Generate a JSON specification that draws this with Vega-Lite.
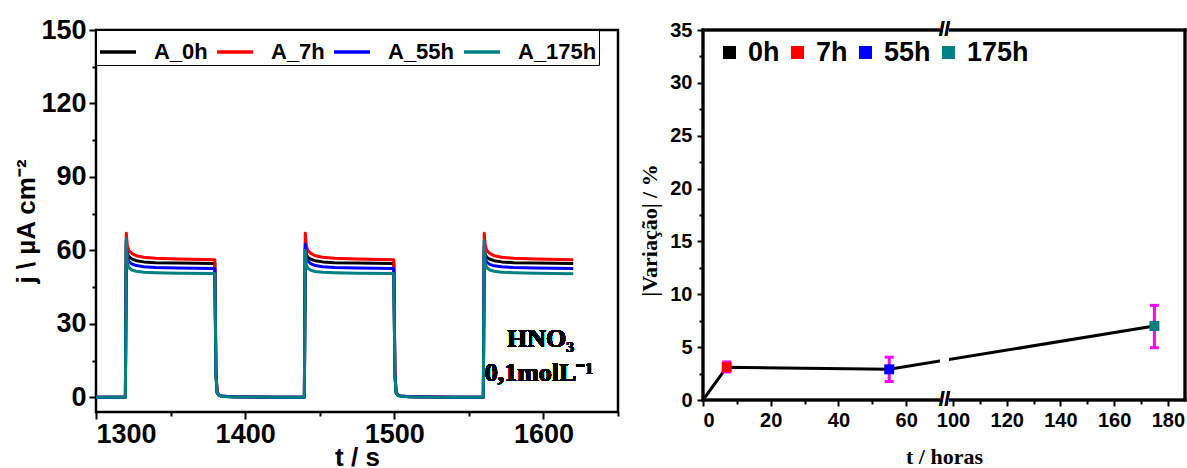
{
  "$schema": "https://vega.github.io/schema/vega-lite/v6.json",
  "background": "white",
  "padding": {"left": 12, "top": 14, "right": 0, "bottom": 0},
  "spacing": 85,
  "bounds": "flush",
  "resolve": {"scale": {"color": "independent"}, "legend": {"color": "independent"}},
  "config": {
    "view": {"stroke": null},
    "font": "Liberation Sans",
    "axis": {
      "domain": false,
      "grid": false,
      "tickColor": "black",
      "tickWidth": 2,
      "labelColor": "black",
      "titleColor": "black",
      "labelFont": "Liberation Sans",
      "labelFontWeight": "bold",
      "titleFont": "Liberation Sans",
      "titleFontWeight": "bold"
    }
  },
  "hconcat": [
    {
      "width": 522,
      "height": 382,
      "view": {"stroke": "black", "strokeWidth": 2.5},
      "data": {
        "values": [
          {"t": 1300, "A_0h": 0, "A_7h": 0, "A_55h": 0, "A_175h": 0},
          {"t": 1319.7, "A_0h": 0, "A_7h": 0, "A_55h": 0, "A_175h": 0},
          {"t": 1320.3, "A_0h": 64, "A_7h": 67, "A_55h": 62, "A_175h": 65},
          {"t": 1321, "A_0h": 59, "A_7h": 62, "A_55h": 57, "A_175h": 55},
          {"t": 1322, "A_0h": 57.5, "A_7h": 60, "A_55h": 55.5, "A_175h": 53},
          {"t": 1324, "A_0h": 56.5, "A_7h": 58.8, "A_55h": 54.5, "A_175h": 52},
          {"t": 1327, "A_0h": 55.8, "A_7h": 57.8, "A_55h": 53.8, "A_175h": 51.5},
          {"t": 1332, "A_0h": 55.3, "A_7h": 57.2, "A_55h": 53.3, "A_175h": 51.1},
          {"t": 1340, "A_0h": 55, "A_7h": 56.8, "A_55h": 53, "A_175h": 50.9},
          {"t": 1355, "A_0h": 54.8, "A_7h": 56.5, "A_55h": 52.8, "A_175h": 50.7},
          {"t": 1379.7, "A_0h": 54.6, "A_7h": 56.2, "A_55h": 52.6, "A_175h": 50.6},
          {"t": 1380.4, "A_0h": 10, "A_7h": 11, "A_55h": 10, "A_175h": 9},
          {"t": 1381.2, "A_0h": 2, "A_7h": 2.2, "A_55h": 2, "A_175h": 1.8},
          {"t": 1382.5, "A_0h": 0.8, "A_7h": 0.9, "A_55h": 0.8, "A_175h": 0.7},
          {"t": 1385, "A_0h": 0.4, "A_7h": 0.4, "A_55h": 0.4, "A_175h": 0.35},
          {"t": 1392, "A_0h": 0.2, "A_7h": 0.2, "A_55h": 0.2, "A_175h": 0.15},
          {"t": 1420, "A_0h": 0.05, "A_7h": 0.05, "A_55h": 0.05, "A_175h": 0.05},
          {"t": 1439.7, "A_0h": 0, "A_7h": 0, "A_55h": 0, "A_175h": 0},
          {"t": 1440.3, "A_0h": 61, "A_7h": 67, "A_55h": 62.5, "A_175h": 60},
          {"t": 1441, "A_0h": 58.5, "A_7h": 62, "A_55h": 57.5, "A_175h": 54},
          {"t": 1442, "A_0h": 57.2, "A_7h": 60, "A_55h": 55.7, "A_175h": 52.7},
          {"t": 1444, "A_0h": 56.4, "A_7h": 58.8, "A_55h": 54.6, "A_175h": 51.9},
          {"t": 1447, "A_0h": 55.8, "A_7h": 57.8, "A_55h": 53.8, "A_175h": 51.4},
          {"t": 1452, "A_0h": 55.3, "A_7h": 57.2, "A_55h": 53.3, "A_175h": 51.1},
          {"t": 1460, "A_0h": 55, "A_7h": 56.8, "A_55h": 53, "A_175h": 50.9},
          {"t": 1475, "A_0h": 54.8, "A_7h": 56.5, "A_55h": 52.8, "A_175h": 50.7},
          {"t": 1499.7, "A_0h": 54.6, "A_7h": 56.2, "A_55h": 52.6, "A_175h": 50.6},
          {"t": 1500.4, "A_0h": 10, "A_7h": 11, "A_55h": 10, "A_175h": 9},
          {"t": 1501.2, "A_0h": 2, "A_7h": 2.2, "A_55h": 2, "A_175h": 1.8},
          {"t": 1502.5, "A_0h": 0.8, "A_7h": 0.9, "A_55h": 0.8, "A_175h": 0.7},
          {"t": 1505, "A_0h": 0.4, "A_7h": 0.4, "A_55h": 0.4, "A_175h": 0.35},
          {"t": 1512, "A_0h": 0.2, "A_7h": 0.2, "A_55h": 0.2, "A_175h": 0.15},
          {"t": 1540, "A_0h": 0.05, "A_7h": 0.05, "A_55h": 0.05, "A_175h": 0.05},
          {"t": 1559.7, "A_0h": 0, "A_7h": 0, "A_55h": 0, "A_175h": 0},
          {"t": 1560.3, "A_0h": 62, "A_7h": 67, "A_55h": 60, "A_175h": 64},
          {"t": 1561, "A_0h": 58.5, "A_7h": 62, "A_55h": 56.5, "A_175h": 54.5},
          {"t": 1562, "A_0h": 57.2, "A_7h": 60, "A_55h": 55.2, "A_175h": 53},
          {"t": 1564, "A_0h": 56.4, "A_7h": 58.8, "A_55h": 54.3, "A_175h": 52},
          {"t": 1567, "A_0h": 55.8, "A_7h": 57.8, "A_55h": 53.7, "A_175h": 51.5},
          {"t": 1572, "A_0h": 55.3, "A_7h": 57.2, "A_55h": 53.3, "A_175h": 51.1},
          {"t": 1580, "A_0h": 55, "A_7h": 56.8, "A_55h": 53, "A_175h": 50.9},
          {"t": 1595, "A_0h": 54.8, "A_7h": 56.5, "A_55h": 52.8, "A_175h": 50.7},
          {"t": 1620, "A_0h": 54.6, "A_7h": 56.2, "A_55h": 52.6, "A_175h": 50.5}
        ]
      },
      "transform": [{"fold": ["A_0h", "A_7h", "A_55h", "A_175h"], "as": ["serie", "j"]}],
      "layer": [
        {
          "mark": {"type": "line", "strokeWidth": 3, "strokeJoin": "round"},
          "encoding": {
            "x": {
              "field": "t", "type": "quantitative",
              "scale": {"domain": [1300, 1650], "nice": false, "zero": false},
              "axis": {"values": [1300, 1400, 1500, 1600], "format": "d", "title": "t / s", "tickSize": 7, "labelFontSize": 27, "titleFontSize": 26, "titlePadding": -3, "labelPadding": 2}
            },
            "y": {
              "field": "j", "type": "quantitative",
              "scale": {"domain": [-6, 150], "nice": false, "zero": false},
              "axis": {"values": [0, 30, 60, 90, 120, 150], "title": "j \\ µA cm⁻²", "tickSize": 7, "labelFontSize": 27, "titleFontSize": 26, "titlePadding": 1, "labelPadding": 3}
            },
            "color": {
              "field": "serie", "type": "nominal",
              "scale": {"domain": ["A_0h", "A_7h", "A_55h", "A_175h"], "range": ["#000000", "#ff0000", "#0000ff", "#008080"]},
              "legend": {
                "orient": "none", "legendX": 0, "legendY": 0, "direction": "horizontal", "title": null,
                "gridAlign": "none",
                "symbolType": "M-1,0H1", "symbolSize": 1296, "symbolStrokeWidth": 3.5,
                "labelFontSize": 22, "labelFontWeight": "bold", "labelColor": "black", "labelFont": "Liberation Sans",
                "strokeColor": "black", "fillColor": "white",
                "padding": 2, "columnPadding": 2, "labelOffset": 16
              }
            }
          }
        },
        {
          "mark": {"type": "point", "opacity": 0},
          "encoding": {
            "x": {"field": "t", "type": "quantitative", "axis": {"orient": "bottom", "values": [1350, 1450, 1550, 1650], "labels": false, "tickSize": 4, "title": null}},
            "y": {"field": "j", "type": "quantitative", "axis": {"orient": "left", "values": [15, 45, 75, 105, 135], "labels": false, "tickSize": 4, "title": null}}
          }
        },
        {
          "mark": {"type": "text", "font": "Liberation Serif", "fontSize": 26, "fontWeight": "bold", "align": "center", "baseline": "middle", "color": "black"},
          "encoding": {
            "x": {"datum": 1598, "type": "quantitative", "axis": null},
            "y": {"datum": 24, "type": "quantitative", "axis": null},
            "text": {"value": "HNO₃"}
          }
        },
        {
          "mark": {"type": "text", "font": "Liberation Serif", "fontSize": 26, "fontWeight": "bold", "align": "center", "baseline": "middle", "color": "black"},
          "encoding": {
            "x": {"datum": 1597, "type": "quantitative", "axis": null},
            "y": {"datum": 10, "type": "quantitative", "axis": null},
            "text": {"value": "0,1molL⁻¹"}
          }
        }
      ],
      "resolve": {"axis": {"x": "independent", "y": "independent"}}
    },
    {
      "width": 482,
      "height": 370,
      "view": {"stroke": null},
      "data": {
        "values": [
          {"h": 0, "v": 0, "lab": "0h"},
          {"h": 7, "v": 3.1, "lab": "7h", "lo": 2.65, "hi": 3.6},
          {"h": 55, "v": 2.9, "lab": "55h", "lo": 1.75, "hi": 4.05},
          {"h": 175, "v": 7.0, "lab": "175h", "lo": 4.95, "hi": 8.95}
        ]
      },
      "layer": [
        {
          "mark": {"type": "line", "color": "black", "strokeWidth": 3},
          "encoding": {
            "x": {
              "field": "h", "type": "quantitative",
              "scale": {"domain": [0, 70, 98.5, 186.4], "range": [0, 237, 246, 482], "nice": false, "zero": false},
              "axis": {"values": [0, 20, 40, 60, 100, 120, 140, 160, 180], "title": "t / horas", "titleFont": "Liberation Serif", "titleFontSize": 22, "titlePadding": 16, "labelFontSize": 20, "tickSize": 6, "labelPadding": 4}
            },
            "y": {
              "field": "v", "type": "quantitative",
              "scale": {"domain": [0, 35], "nice": false, "zero": false},
              "axis": {"values": [0, 5, 10, 15, 20, 25, 30, 35], "title": "|Variação| / %", "titleFont": "Liberation Serif", "titleFontSize": 22, "titlePadding": 8, "titleY": 200, "labelFontSize": 20, "tickSize": 6, "labelPadding": 5}
            }
          }
        },
        {
          "mark": {"type": "point", "opacity": 0},
          "encoding": {
            "x": {"field": "h", "type": "quantitative", "axis": {"orient": "bottom", "values": [10, 30, 50, 110, 130, 150, 170], "labels": false, "tickSize": 4, "title": null}},
            "y": {"field": "v", "type": "quantitative", "axis": {"orient": "left", "values": [2.5, 7.5, 12.5, 17.5, 22.5, 27.5, 32.5], "labels": false, "tickSize": 4, "title": null}}
          }
        },
        {
          "mark": {"type": "rule", "color": "black", "strokeWidth": 2.5, "strokeCap": "square"},
          "encoding": {
            "x": {"datum": 0, "type": "quantitative", "axis": null},
            "x2": {"datum": 186.4},
            "y": {"datum": 35, "type": "quantitative", "axis": null}
          }
        },
        {
          "mark": {"type": "rule", "color": "black", "strokeWidth": 2.5, "strokeCap": "square"},
          "encoding": {
            "x": {"datum": 0, "type": "quantitative", "axis": null},
            "x2": {"datum": 186.4},
            "y": {"datum": 0, "type": "quantitative", "axis": null}
          }
        },
        {
          "mark": {"type": "rule", "color": "black", "strokeWidth": 2.5, "strokeCap": "square"},
          "encoding": {
            "x": {"datum": 0, "type": "quantitative", "axis": null},
            "y": {"datum": 0, "type": "quantitative", "axis": null},
            "y2": {"datum": 35}
          }
        },
        {
          "mark": {"type": "rule", "color": "black", "strokeWidth": 2.5, "strokeCap": "square"},
          "encoding": {
            "x": {"datum": 186.4, "type": "quantitative", "axis": null},
            "y": {"datum": 0, "type": "quantitative", "axis": null},
            "y2": {"datum": 35}
          }
        },
        {
          "transform": [{"filter": "datum.lo != null"}],
          "mark": {"type": "rule", "color": "#ff00ff", "strokeWidth": 3},
          "encoding": {
            "x": {"field": "h", "type": "quantitative", "axis": null},
            "y": {"field": "lo", "type": "quantitative", "axis": null},
            "y2": {"field": "hi"}
          }
        },
        {
          "transform": [{"filter": "datum.lo != null"}],
          "mark": {"type": "tick", "color": "#ff00ff", "orient": "horizontal", "size": 9, "thickness": 3, "opacity": 1},
          "encoding": {
            "x": {"field": "h", "type": "quantitative", "axis": null},
            "y": {"field": "lo", "type": "quantitative", "axis": null}
          }
        },
        {
          "transform": [{"filter": "datum.lo != null"}],
          "mark": {"type": "tick", "color": "#ff00ff", "orient": "horizontal", "size": 9, "thickness": 3, "opacity": 1},
          "encoding": {
            "x": {"field": "h", "type": "quantitative", "axis": null},
            "y": {"field": "hi", "type": "quantitative", "axis": null}
          }
        },
        {
          "transform": [{"filter": "datum.h > 0"}],
          "mark": {"type": "square", "size": 100, "opacity": 1},
          "encoding": {
            "x": {"field": "h", "type": "quantitative", "axis": null},
            "y": {"field": "v", "type": "quantitative", "axis": null},
            "color": {
              "field": "lab", "type": "nominal",
              "scale": {"domain": ["0h", "7h", "55h", "175h"], "range": ["#000000", "#ff0000", "#0000ff", "#008080"]},
              "legend": {
                "orient": "none", "legendX": 13, "legendY": 9, "direction": "horizontal", "title": null,
                "gridAlign": "none",
                "symbolType": "square", "symbolSize": 169, "symbolStrokeWidth": 0,
                "labelFontSize": 27, "labelFontWeight": "bold", "labelColor": "black", "labelFont": "Liberation Sans",
                "padding": 0, "columnPadding": 4, "labelOffset": 5
              }
            }
          }
        },
        {
          "mark": {"type": "rect", "color": "white", "opacity": 1},
          "encoding": {
            "x": {"datum": 70.2, "type": "quantitative", "axis": null},
            "x2": {"datum": 98.3},
            "y": {"datum": -0.45, "type": "quantitative", "axis": null},
            "y2": {"datum": 35.45}
          }
        },
        {
          "mark": {"type": "text", "fontSize": 20, "fontWeight": "bold", "align": "center", "baseline": "middle", "color": "black"},
          "encoding": {
            "x": {"datum": 84.3, "type": "quantitative", "axis": null},
            "y": {"datum": 35, "type": "quantitative", "axis": null},
            "text": {"value": "//"}
          }
        },
        {
          "mark": {"type": "text", "fontSize": 20, "fontWeight": "bold", "align": "center", "baseline": "middle", "color": "black"},
          "encoding": {
            "x": {"datum": 84.3, "type": "quantitative", "axis": null},
            "y": {"datum": 0, "type": "quantitative", "axis": null},
            "text": {"value": "//"}
          }
        }
      ],
      "resolve": {"axis": {"x": "independent", "y": "independent"}}
    }
  ]
}
